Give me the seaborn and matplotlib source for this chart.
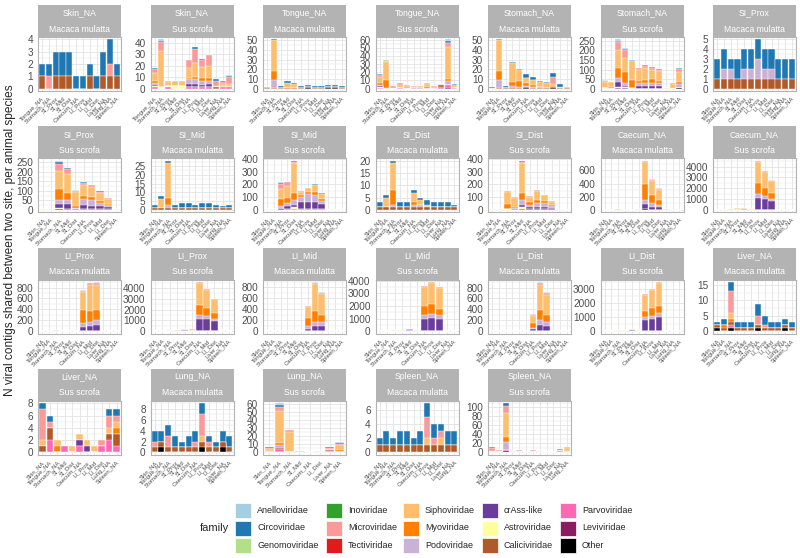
import matplotlib
matplotlib.use("Agg")
import matplotlib.pyplot as plt
from matplotlib.patches import Rectangle
import seaborn as sns
import numpy as np

sns.set_style("whitegrid")
plt.rcParams["font.family"] = ["Liberation Sans", "DejaVu Sans"]

# -------------------------------
# Sites, families, colours
# -------------------------------
SITES = ["Skin_NA", "Tongue_NA", "Stomach_NA", "SI_Prox", "SI_Mid", "SI_Dist",
         "Caecum_NA", "LI_Prox", "LI_Mid", "LI_Dist", "Liver_NA", "Lung_NA", "Spleen_NA"]

FAM_CODES = ["An", "Ci", "Ge", "In", "Mi", "Te", "Si", "My", "Po", "Cr", "As", "Ca", "Pa", "Le", "Ot"]
FAMILIES = ["Anelloviridae", "Circoviridae", "Genomoviridae", "Inoviridae", "Microviridae",
            "Tectiviridae", "Siphoviridae", "Myoviridae", "Podoviridae", "crAss-like",
            "Astroviridae", "Caliciviridae", "Parvoviridae", "Leviviridae", "Other"]
COLORS = ["#A6CEE3", "#1F78B4", "#B2DF8A", "#33A02C", "#FB9A99",
          "#E31A1C", "#FDBF6F", "#FF7F00", "#CAB2D6", "#6A3D9A",
          "#FFFF99", "#B15928", "#FF69B4", "#8B1C62", "#000000"]

# -------------------------------
# Shared contigs per panel: other site -> {family: n}
# -------------------------------
skin_mm = {
    "Tongue_NA": {"Ca": 1, "Ci": 1}, "Stomach_NA": {"Mi": 1, "Ci": 1},
    "SI_Prox": {"Ca": 1, "Ci": 2}, "SI_Mid": {"Ca": 1, "Ci": 2}, "SI_Dist": {"Ca": 1, "Ci": 2},
    "Caecum_NA": {"Ci": 1}, "LI_Prox": {"Ci": 1}, "LI_Mid": {"Ca": 1, "Ci": 1},
    "LI_Dist": {"Ci": 1}, "Liver_NA": {"Ca": 1, "Ci": 2},
    "Lung_NA": {"Ca": 1, "Mi": 1, "Ci": 2}, "Spleen_NA": {"Ca": 1, "Ci": 1},
}
skin_ss = {
    "Tongue_NA": {"Pa": 1, "As": 1, "Cr": 1, "Po": 2, "My": 2, "Si": 7, "Mi": 3, "Ci": 1},
    "Stomach_NA": {"As": 1, "Si": 32, "Mi": 8, "Ci": 1, "An": 1},
    "SI_Prox": {"Pa": 1, "As": 1, "Si": 4, "Mi": 1}, "SI_Mid": {"As": 2, "Si": 5},
    "SI_Dist": {"As": 2, "Si": 5},
    "Caecum_NA": {"Pa": 1, "Cr": 3, "Po": 4, "My": 1, "Si": 9, "Mi": 7},
    "LI_Prox": {"Pa": 1, "Cr": 3, "Po": 4, "My": 2, "Si": 12, "Mi": 13, "Ci": 1},
    "LI_Mid": {"Pa": 1, "Cr": 2, "Po": 4, "My": 2, "Si": 10, "Mi": 6, "Ci": 1},
    "LI_Dist": {"Pa": 1, "Cr": 3, "Po": 3, "My": 2, "Si": 11, "Mi": 9},
    "Liver_NA": {"Ca": 1, "Si": 1, "Mi": 5, "Ci": 1},
    "Lung_NA": {"Pa": 1, "My": 1, "Si": 2, "Mi": 2, "Ci": 1},
    "Spleen_NA": {"Pa": 1, "My": 1, "Si": 2, "Mi": 6, "Ci": 1, "An": 1},
}
tongue_mm = {
    "Skin_NA": {"Ca": 1, "Ci": 1}, "Stomach_NA": {"Ca": 1, "Po": 8, "My": 9, "Si": 32, "Ci": 1},
    "SI_Prox": {"Ca": 1, "Ci": 2}, "SI_Mid": {"Ca": 1, "Si": 5, "Ci": 2},
    "SI_Dist": {"Ca": 1, "Si": 4, "Ci": 1}, "Caecum_NA": {"Ca": 1, "Ci": 2},
    "LI_Prox": {"Ot": 1, "Ca": 1, "Ci": 2}, "LI_Mid": {"Ca": 1, "Ci": 2}, "LI_Dist": {"Ca": 1, "Ci": 2},
    "Liver_NA": {"Ot": 1, "Ca": 1, "Ci": 2}, "Lung_NA": {"Ot": 1, "Ca": 1, "Ci": 2},
    "Spleen_NA": {"Ca": 1, "Ci": 2},
}
tongue_ss = {
    "Skin_NA": {"Pa": 1, "As": 1, "Cr": 1, "Po": 2, "My": 2, "Si": 7, "Mi": 3, "Ci": 1},
    "Stomach_NA": {"Po": 1, "My": 9, "Si": 23, "Ge": 2},
    "SI_Prox": {"Si": 1, "Mi": 2}, "SI_Mid": {"Pa": 1, "Si": 4, "Mi": 2}, "SI_Dist": {"Si": 3, "Mi": 1},
    "Caecum_NA": {"Cr": 1, "Si": 1, "Mi": 1}, "LI_Prox": {"Cr": 1, "Si": 2},
    "LI_Mid": {"My": 2, "Si": 4, "Mi": 1}, "LI_Dist": {"Si": 2, "Mi": 1},
    "Liver_NA": {"Pa": 2, "Ca": 2, "Mi": 1, "Ci": 1},
    "Lung_NA": {"Ca": 1, "Le": 1, "Pa": 3, "Po": 4, "My": 3, "Si": 40, "Mi": 4, "Ci": 3, "An": 2},
    "Spleen_NA": {"Pa": 1, "Si": 2, "Mi": 2, "Ci": 1},
}
stomach_mm = {
    "Skin_NA": {"Mi": 1, "Ci": 1}, "Tongue_NA": {"Ca": 1, "Po": 8, "My": 9, "Si": 32, "Ci": 1},
    "SI_Prox": {"Ca": 1, "Ci": 2}, "SI_Mid": {"Ca": 1, "Po": 2, "My": 4, "Si": 20, "Ci": 1},
    "SI_Dist": {"Ca": 1, "Po": 1, "My": 6, "Si": 11, "Ci": 1},
    "Caecum_NA": {"Ot": 1, "Ca": 1, "Po": 1, "My": 3, "Si": 5, "Ci": 4},
    "LI_Prox": {"Ca": 1, "Po": 1, "My": 2, "Si": 5, "Ci": 3},
    "LI_Mid": {"Ca": 1, "Po": 1, "Si": 5, "Ci": 1}, "LI_Dist": {"Ca": 1, "Si": 5, "Ci": 1},
    "Liver_NA": {"Ot": 1, "Ca": 1, "My": 1, "Si": 2, "Mi": 7, "Ci": 4},
    "Lung_NA": {"Ca": 1, "Mi": 1, "Ci": 3}, "Spleen_NA": {"Ca": 1, "Ci": 1},
}
stomach_ss = {
    "Skin_NA": {"As": 1, "Si": 32, "Mi": 8, "Ci": 1, "An": 1},
    "Tongue_NA": {"Po": 1, "My": 9, "Si": 23, "Ge": 2},
    "SI_Prox": {"Le": 3, "As": 5, "Cr": 25, "Po": 20, "My": 55, "Si": 95, "Mi": 40, "Ci": 8, "An": 7},
    "SI_Mid": {"Le": 3, "As": 3, "Cr": 10, "Po": 12, "My": 58, "Si": 75, "Mi": 40, "Ci": 7, "An": 7},
    "SI_Dist": {"As": 3, "My": 40, "Si": 100, "Mi": 3, "Ci": 4},
    "Caecum_NA": {"Cr": 15, "Po": 15, "My": 10, "Si": 60, "Mi": 8, "Ci": 2},
    "LI_Prox": {"Cr": 15, "Po": 15, "My": 15, "Si": 65, "Mi": 10, "Ci": 5},
    "LI_Mid": {"Cr": 15, "Po": 15, "My": 20, "Si": 50, "Mi": 10, "Ci": 3},
    "LI_Dist": {"Cr": 15, "Po": 15, "My": 10, "Si": 50, "Mi": 10, "Ci": 3},
    "Liver_NA": {"My": 1, "Si": 1}, "Lung_NA": {"Si": 26, "Mi": 2},
    "Spleen_NA": {"Ot": 3, "Pa": 2, "Po": 18, "My": 12, "Si": 52, "Mi": 16, "Ci": 6},
}
si_prox_mm = {
    "Skin_NA": {"Ca": 1, "Ci": 2}, "Tongue_NA": {"Ca": 1, "Po": 1, "Ci": 2},
    "Stomach_NA": {"Ca": 1, "Po": 1, "Ci": 1}, "SI_Mid": {"Ca": 1, "Ci": 2},
    "SI_Dist": {"Ca": 1, "Po": 1, "Ci": 2}, "Caecum_NA": {"Ca": 1, "Po": 1, "Ci": 2},
    "LI_Prox": {"Ca": 1, "Po": 2, "Ci": 2}, "LI_Mid": {"Ca": 1, "Po": 1, "Ci": 2},
    "LI_Dist": {"Ca": 1, "Po": 1, "Ci": 2}, "Liver_NA": {"Ca": 1, "Ci": 2},
    "Lung_NA": {"Ca": 1, "Ci": 2}, "Spleen_NA": {"Ca": 1, "Ci": 2},
}
si_prox_ss = {
    "Skin_NA": {"My": 1, "Si": 4, "Mi": 2}, "Tongue_NA": {"Si": 1, "Mi": 2},
    "Stomach_NA": {"Le": 3, "As": 5, "Cr": 25, "Po": 20, "My": 55, "Si": 95, "Mi": 40, "Ci": 8, "An": 7},
    "SI_Mid": {"Ca": 3, "As": 2, "Cr": 25, "Po": 20, "My": 40, "Si": 100, "Mi": 25, "Ci": 5, "An": 2},
    "SI_Dist": {"Ca": 2, "Cr": 5, "Po": 5, "My": 10, "Si": 70, "Mi": 5, "Ci": 3, "An": 2},
    "Caecum_NA": {"Ca": 3, "Cr": 20, "Po": 35, "My": 15, "Si": 60, "Mi": 8, "Ci": 4},
    "LI_Prox": {"Ca": 3, "Cr": 15, "Po": 35, "My": 14, "Si": 55, "Mi": 7, "Ci": 3},
    "LI_Mid": {"Ca": 3, "Cr": 15, "Po": 20, "My": 10, "Si": 40, "Mi": 6, "Ci": 3},
    "LI_Dist": {"Ca": 2, "Cr": 15, "Po": 10, "My": 5, "Si": 25, "Mi": 5},
    "Spleen_NA": {"Mi": 3},
}
si_mid_mm = {
    "Skin_NA": {"Ca": 1, "Ci": 2}, "Tongue_NA": {"Ca": 1, "Si": 5, "Ci": 2},
    "Stomach_NA": {"Ca": 1, "Po": 2, "My": 4, "Si": 20, "Ci": 1},
    "SI_Prox": {"Ca": 1, "Ci": 2}, "SI_Dist": {"Ca": 1, "Ci": 3}, "Caecum_NA": {"Ca": 1, "Ci": 3},
    "LI_Prox": {"Ca": 1, "Ci": 2}, "LI_Mid": {"Ca": 1, "Ci": 3}, "LI_Dist": {"Ca": 1, "Ci": 3},
    "Liver_NA": {"Ca": 1, "Ci": 2}, "Lung_NA": {"Ca": 1, "Ci": 1}, "Spleen_NA": {"Ca": 1, "Ci": 2},
}
si_mid_ss = {
    "Skin_NA": {"As": 2, "Si": 5}, "Tongue_NA": {"Pa": 1, "Si": 4, "Mi": 2},
    "Stomach_NA": {"Le": 3, "As": 3, "Cr": 10, "Po": 12, "My": 58, "Si": 75, "Mi": 40, "Ci": 7, "An": 7},
    "SI_Prox": {"Ca": 3, "As": 2, "Cr": 25, "Po": 20, "My": 40, "Si": 100, "Mi": 25, "Ci": 5, "An": 2},
    "SI_Dist": {"Ca": 5, "As": 20, "Cr": 15, "Po": 40, "My": 50, "Si": 240, "Mi": 8, "Ci": 5, "An": 2},
    "Caecum_NA": {"Ca": 3, "Cr": 60, "Po": 35, "My": 20, "Si": 25, "Mi": 5, "Ci": 2},
    "LI_Prox": {"Ca": 3, "Cr": 60, "Po": 60, "My": 15, "Si": 30, "Mi": 5, "Ci": 2},
    "LI_Mid": {"Ca": 3, "Cr": 55, "Po": 60, "My": 20, "Si": 55, "Mi": 5, "Ci": 2},
    "LI_Dist": {"Ca": 3, "Cr": 45, "Po": 25, "My": 15, "Si": 35, "Mi": 5, "Ci": 2},
    "Liver_NA": {"Pa": 1}, "Lung_NA": {"My": 2}, "Spleen_NA": {"Si": 3, "Mi": 2},
}
si_dist_mm = {
    "Skin_NA": {"Ca": 1, "Ci": 2}, "Tongue_NA": {"Ca": 1, "Si": 4, "Ci": 1},
    "Stomach_NA": {"Ca": 1, "Po": 1, "My": 6, "Si": 11, "Ci": 1},
    "SI_Prox": {"Ca": 1, "Ci": 2}, "SI_Mid": {"Ca": 1, "Ci": 2},
    "Caecum_NA": {"Ca": 1, "Po": 1, "My": 1, "Si": 4, "Ci": 1},
    "LI_Prox": {"Ca": 1, "Po": 1, "Si": 2, "Ci": 1}, "LI_Mid": {"Ca": 1, "Si": 1, "Ci": 2},
    "LI_Dist": {"Ca": 1, "Ci": 2}, "Liver_NA": {"Ca": 1, "Ci": 2},
    "Lung_NA": {"Ca": 1, "Ci": 2}, "Spleen_NA": {"Ca": 1, "Ci": 1},
}
si_dist_ss = {
    "Skin_NA": {"As": 2, "Si": 5}, "Tongue_NA": {"Si": 3, "Mi": 1},
    "Stomach_NA": {"As": 3, "My": 40, "Si": 100, "Mi": 3, "Ci": 4},
    "SI_Prox": {"Ca": 2, "Cr": 5, "Po": 5, "My": 10, "Si": 70, "Mi": 5, "Ci": 3, "An": 2},
    "SI_Mid": {"Ca": 5, "As": 20, "Cr": 15, "Po": 40, "My": 50, "Si": 240, "Mi": 8, "Ci": 5, "An": 2},
    "Caecum_NA": {"Ca": 5, "As": 5, "Cr": 10, "Po": 15, "My": 25, "Si": 40, "Mi": 5, "Ci": 5},
    "LI_Prox": {"Ca": 5, "As": 5, "Cr": 15, "Po": 30, "My": 25, "Si": 70, "Mi": 5},
    "LI_Mid": {"Ca": 5, "As": 5, "Cr": 15, "Po": 30, "My": 15, "Si": 45, "Mi": 5},
    "LI_Dist": {"Ca": 3, "Cr": 10, "Po": 15, "My": 10, "Si": 25, "Mi": 5},
    "Liver_NA": {"Si": 1}, "Spleen_NA": {"Mi": 2},
}
caecum_mm = {
    "Skin_NA": {"Ci": 1}, "Tongue_NA": {"Ca": 1, "Ci": 2},
    "Stomach_NA": {"Ot": 1, "Ca": 1, "Po": 1, "My": 3, "Si": 5, "Ci": 4},
    "SI_Prox": {"Ca": 1, "Po": 1, "Ci": 2}, "SI_Mid": {"Ca": 1, "Ci": 3},
    "SI_Dist": {"Ca": 1, "Po": 1, "My": 1, "Si": 4, "Ci": 1},
    "LI_Prox": {"Ot": 10, "Cr": 73, "Po": 63, "My": 244, "Si": 332, "Mi": 15, "An": 9},
    "LI_Mid": {"Ot": 2, "Cr": 45, "Po": 50, "My": 135, "Si": 205, "Mi": 20, "An": 5},
    "LI_Dist": {"Cr": 40, "Po": 30, "My": 75, "Si": 150, "Mi": 25, "An": 5},
    "Liver_NA": {"Ot": 1, "Ca": 1, "Mi": 3, "Ci": 4}, "Lung_NA": {"Ca": 1, "Mi": 1, "Ci": 2},
    "Spleen_NA": {"Ca": 1, "Ci": 2},
}
caecum_ss = {
    "Skin_NA": {"Pa": 1, "Cr": 3, "Po": 4, "My": 1, "Si": 9, "Mi": 7},
    "Tongue_NA": {"Cr": 1, "Si": 1, "Mi": 1},
    "Stomach_NA": {"Cr": 15, "Po": 15, "My": 10, "Si": 60, "Mi": 8, "Ci": 2},
    "SI_Prox": {"Ca": 3, "Cr": 20, "Po": 35, "My": 15, "Si": 60, "Mi": 8, "Ci": 4},
    "SI_Mid": {"Ca": 3, "Cr": 60, "Po": 35, "My": 20, "Si": 25, "Mi": 5, "Ci": 2},
    "SI_Dist": {"Ca": 5, "As": 5, "Cr": 10, "Po": 15, "My": 25, "Si": 40, "Mi": 5, "Ci": 5},
    "LI_Prox": {"Cr": 1110, "Po": 390, "My": 960, "Si": 1985, "Mi": 90, "An": 15},
    "LI_Mid": {"Cr": 960, "Po": 330, "My": 720, "Si": 1530, "Mi": 40, "An": 20},
    "LI_Dist": {"Cr": 810, "Po": 240, "My": 510, "Si": 1110, "Mi": 40, "An": 10},
    "Liver_NA": {"Pa": 1, "Cr": 1, "Si": 1}, "Lung_NA": {"Mi": 1}, "Spleen_NA": {"Si": 3, "Mi": 2},
}
li_prox_mm = {
    "Skin_NA": {"Ci": 1}, "Tongue_NA": {"Ot": 1, "Ca": 1, "Ci": 2},
    "Stomach_NA": {"Ca": 1, "Po": 1, "My": 2, "Si": 5, "Ci": 3},
    "SI_Prox": {"Ca": 1, "Po": 2, "Ci": 2}, "SI_Mid": {"Ca": 1, "Ci": 2},
    "SI_Dist": {"Ca": 1, "Po": 1, "Si": 2, "Ci": 1},
    "Caecum_NA": {"Ot": 10, "Cr": 73, "Po": 63, "My": 244, "Si": 332, "Mi": 15, "An": 9},
    "LI_Mid": {"Ot": 10, "Cr": 80, "Po": 80, "My": 200, "Si": 480, "Mi": 30, "An": 10},
    "LI_Dist": {"Ot": 5, "Cr": 105, "Po": 90, "My": 180, "Si": 460, "Mi": 50, "An": 10},
    "Liver_NA": {"Ca": 1, "Mi": 1, "Ci": 3}, "Lung_NA": {"Ot": 1, "Ca": 1, "Si": 1, "Mi": 4, "Ci": 2},
    "Spleen_NA": {"Ca": 1, "Si": 1, "Mi": 3, "Ci": 2},
}
li_prox_ss = {
    "Skin_NA": {"Pa": 1, "Cr": 3, "Po": 4, "My": 2, "Si": 12, "Mi": 13, "Ci": 1},
    "Tongue_NA": {"Cr": 1, "Si": 2},
    "Stomach_NA": {"Cr": 15, "Po": 15, "My": 15, "Si": 65, "Mi": 10, "Ci": 5},
    "SI_Prox": {"Ca": 3, "Cr": 15, "Po": 35, "My": 14, "Si": 55, "Mi": 7, "Ci": 3},
    "SI_Mid": {"Ca": 3, "Cr": 60, "Po": 60, "My": 15, "Si": 30, "Mi": 5, "Ci": 2},
    "SI_Dist": {"Ca": 5, "As": 5, "Cr": 15, "Po": 30, "My": 25, "Si": 70, "Mi": 5},
    "Caecum_NA": {"Cr": 1110, "Po": 390, "My": 960, "Si": 1985, "Mi": 90, "An": 15},
    "LI_Mid": {"Cr": 1080, "Po": 300, "My": 810, "Si": 1650, "Mi": 60, "An": 10},
    "LI_Dist": {"Cr": 900, "Po": 180, "My": 570, "Si": 1290, "Mi": 40, "An": 20},
    "Liver_NA": {"Cr": 1, "Si": 1}, "Spleen_NA": {"Si": 2, "Mi": 1},
}
li_mid_mm = {
    "Skin_NA": {"Ca": 1, "Ci": 1}, "Tongue_NA": {"Ca": 1, "Ci": 2},
    "Stomach_NA": {"Ca": 1, "Po": 1, "Si": 5, "Ci": 1},
    "SI_Prox": {"Ca": 1, "Po": 1, "Ci": 2}, "SI_Mid": {"Ca": 1, "Ci": 3},
    "SI_Dist": {"Ca": 1, "Si": 1, "Ci": 2},
    "Caecum_NA": {"Ot": 2, "Cr": 45, "Po": 50, "My": 135, "Si": 205, "Mi": 20, "An": 5},
    "LI_Prox": {"Ot": 10, "Cr": 80, "Po": 80, "My": 200, "Si": 480, "Mi": 30, "An": 10},
    "LI_Dist": {"Ot": 5, "Cr": 90, "Po": 75, "My": 120, "Si": 380, "Mi": 30, "An": 10},
    "Liver_NA": {"Ca": 1, "Ci": 2}, "Lung_NA": {"Ca": 1, "Mi": 1, "Ci": 1},
    "Spleen_NA": {"Ca": 1, "Mi": 1, "Ci": 2},
}
li_mid_ss = {
    "Skin_NA": {"Pa": 1, "Cr": 2, "Po": 4, "My": 2, "Si": 10, "Mi": 6, "Ci": 1},
    "Tongue_NA": {"My": 2, "Si": 4, "Mi": 1},
    "Stomach_NA": {"Cr": 15, "Po": 15, "My": 20, "Si": 50, "Mi": 10, "Ci": 3},
    "SI_Prox": {"Ca": 3, "Cr": 15, "Po": 20, "My": 10, "Si": 40, "Mi": 6, "Ci": 3},
    "SI_Mid": {"Ca": 3, "Cr": 55, "Po": 60, "My": 20, "Si": 55, "Mi": 5, "Ci": 2},
    "SI_Dist": {"Ca": 5, "As": 5, "Cr": 15, "Po": 30, "My": 15, "Si": 45, "Mi": 5},
    "Caecum_NA": {"Cr": 960, "Po": 330, "My": 720, "Si": 1530, "Mi": 40, "An": 20},
    "LI_Prox": {"Cr": 1080, "Po": 300, "My": 810, "Si": 1650, "Mi": 60, "An": 10},
    "LI_Dist": {"Cr": 980, "Po": 290, "My": 520, "Si": 1620, "Mi": 80, "An": 20},
    "Liver_NA": {"Si": 1}, "Spleen_NA": {"Si": 2},
}
li_dist_mm = {
    "Skin_NA": {"Ci": 1}, "Tongue_NA": {"Ca": 1, "Ci": 2},
    "Stomach_NA": {"Ca": 1, "Si": 5, "Ci": 1}, "SI_Prox": {"Ca": 1, "Po": 1, "Ci": 2},
    "SI_Mid": {"Ca": 1, "Ci": 3}, "SI_Dist": {"Ca": 1, "Ci": 2},
    "Caecum_NA": {"Cr": 48, "Po": 18, "My": 84, "Si": 120, "Mi": 30, "An": 7},
    "LI_Prox": {"Ot": 5, "Cr": 105, "Po": 90, "My": 180, "Si": 460, "Mi": 50, "An": 10},
    "LI_Mid": {"Ot": 5, "Cr": 90, "Po": 75, "My": 120, "Si": 380, "Mi": 30, "An": 10},
    "Liver_NA": {"Ca": 1, "Ci": 2}, "Lung_NA": {"Ca": 1, "Ci": 1},
    "Spleen_NA": {"Ca": 1, "Si": 1, "Mi": 1, "Ci": 1},
}
li_dist_ss = {
    "Skin_NA": {"Pa": 1, "Cr": 3, "Po": 3, "My": 2, "Si": 11, "Mi": 9},
    "Tongue_NA": {"Si": 2, "Mi": 1},
    "Stomach_NA": {"Cr": 15, "Po": 15, "My": 10, "Si": 50, "Mi": 10, "Ci": 3},
    "SI_Prox": {"Ca": 2, "Cr": 15, "Po": 10, "My": 5, "Si": 25, "Mi": 5},
    "SI_Mid": {"Ca": 3, "Cr": 45, "Po": 25, "My": 15, "Si": 35, "Mi": 5, "Ci": 2},
    "SI_Dist": {"Ca": 3, "Cr": 10, "Po": 15, "My": 10, "Si": 25, "Mi": 5},
    "Caecum_NA": {"Cr": 830, "Po": 190, "My": 430, "Si": 1170, "Mi": 60, "An": 10},
    "LI_Prox": {"Cr": 900, "Po": 180, "My": 570, "Si": 1290, "Mi": 40, "An": 20},
    "LI_Mid": {"Cr": 980, "Po": 290, "My": 520, "Si": 1620, "Mi": 80, "An": 20},
    "Liver_NA": {"Pa": 1, "Mi": 1}, "Lung_NA": {"My": 1, "Si": 1}, "Spleen_NA": {"Si": 2},
}
liver_mm = {
    "Skin_NA": {"Ot": 1, "Ca": 1, "Ci": 1}, "Tongue_NA": {"Ca": 1, "My": 1, "Ci": 2},
    "Stomach_NA": {"Ot": 1, "Ca": 1, "Pa": 1, "My": 1, "Si": 2, "Mi": 7, "Ci": 3},
    "SI_Prox": {"Ca": 1, "Ci": 2}, "SI_Mid": {"Ca": 1, "Ci": 2}, "SI_Dist": {"Ca": 1, "Ci": 2},
    "Caecum_NA": {"Ot": 1, "Ca": 1, "Mi": 3, "Ci": 4}, "LI_Prox": {"Ca": 1, "Mi": 1, "Ci": 3},
    "LI_Mid": {"Ca": 1, "Ci": 2}, "LI_Dist": {"Ca": 1, "Ci": 2},
    "Lung_NA": {"Ot": 1, "Ca": 1, "Ci": 2}, "Spleen_NA": {"Ca": 1, "Ci": 2},
}
liver_ss = {
    "Skin_NA": {"Ca": 1, "Si": 1, "Mi": 5, "Ci": 1}, "Tongue_NA": {"Pa": 2, "Ca": 2, "Mi": 1, "Ci": 1},
    "Stomach_NA": {"My": 1, "Si": 1}, "SI_Mid": {"Pa": 1}, "SI_Dist": {"Si": 1},
    "Caecum_NA": {"Pa": 1, "Cr": 1, "Si": 1}, "LI_Prox": {"Cr": 1, "Si": 1}, "LI_Mid": {"Si": 1},
    "LI_Dist": {"Pa": 1, "Mi": 1},
    "Lung_NA": {"Pa": 2, "Ca": 1, "Si": 1, "Mi": 2, "Ci": 1},
    "Spleen_NA": {"Pa": 1, "Ca": 2, "My": 1, "Si": 1, "Mi": 1, "Ci": 1},
}
lung_mm = {
    "Skin_NA": {"Ca": 1, "Mi": 1, "Ci": 2}, "Tongue_NA": {"Ot": 1, "Ca": 1, "Ci": 2},
    "Stomach_NA": {"Ca": 1, "Mi": 2, "Ci": 2}, "SI_Prox": {"Ca": 1, "Ci": 2},
    "SI_Mid": {"Ca": 1, "Ci": 1}, "SI_Dist": {"Ca": 1, "Ci": 2},
    "Caecum_NA": {"Ca": 1, "Mi": 1, "Ci": 2}, "LI_Prox": {"Ot": 1, "Ca": 1, "Si": 1, "Mi": 4, "Ci": 2},
    "LI_Mid": {"Ca": 1, "Mi": 1, "Ci": 1}, "LI_Dist": {"Ca": 1, "Ci": 1},
    "Liver_NA": {"Ot": 1, "Ca": 1, "Ci": 2}, "Spleen_NA": {"Ca": 1, "Ci": 2},
}
lung_ss = {
    "Skin_NA": {"Pa": 1, "My": 1, "Si": 2, "Mi": 2, "Ci": 1},
    "Tongue_NA": {"Ca": 1, "Le": 1, "Pa": 3, "Po": 4, "My": 3, "Si": 40, "Mi": 4, "Ci": 3, "An": 2},
    "Stomach_NA": {"Si": 26, "Mi": 2}, "SI_Mid": {"My": 2}, "Caecum_NA": {"Mi": 1},
    "LI_Dist": {"My": 1, "Si": 1},
    "Liver_NA": {"Pa": 2, "Ca": 1, "Si": 1, "Mi": 2, "Ci": 1},
    "Spleen_NA": {"Pa": 1, "My": 2, "Si": 6, "Mi": 2, "Ci": 1, "An": 1},
}
spleen_mm = {
    "Skin_NA": {"Ca": 1, "Ci": 1}, "Tongue_NA": {"Ca": 1, "Ci": 2}, "Stomach_NA": {"Ca": 1, "Ci": 1},
    "SI_Prox": {"Ca": 1, "Ci": 2}, "SI_Mid": {"Ca": 1, "Ci": 2}, "SI_Dist": {"Ca": 1, "Ci": 1},
    "Caecum_NA": {"Ca": 1, "Ci": 2}, "LI_Prox": {"Ca": 1, "Si": 1, "Mi": 3, "Ci": 2},
    "LI_Mid": {"Ca": 1, "Mi": 1, "Ci": 2}, "LI_Dist": {"Ca": 1, "Si": 1, "Mi": 1, "Ci": 1},
    "Liver_NA": {"Ca": 1, "Ci": 2}, "Lung_NA": {"Ca": 1, "Ci": 2},
}
spleen_ss = {
    "Skin_NA": {"Pa": 1, "My": 1, "Si": 2, "Mi": 6, "Ci": 1, "An": 1},
    "Tongue_NA": {"Pa": 1, "Si": 2, "Mi": 2, "Ci": 1},
    "Stomach_NA": {"Ot": 3, "Pa": 2, "Po": 18, "My": 12, "Si": 52, "Mi": 16, "Ci": 6},
    "SI_Prox": {"Mi": 3}, "SI_Mid": {"Si": 3, "Mi": 2}, "SI_Dist": {"Mi": 2},
    "Caecum_NA": {"Si": 3, "Mi": 2}, "LI_Prox": {"Si": 2, "Mi": 1}, "LI_Mid": {"Si": 2},
    "LI_Dist": {"Si": 2}, "Liver_NA": {"Pa": 1, "Ca": 2, "My": 1, "Si": 1, "Mi": 1, "Ci": 1},
    "Lung_NA": {"Pa": 1, "My": 2, "Si": 6, "Mi": 2, "Ci": 1, "An": 1},
}

MM, SS = "Macaca mulatta", "Sus scrofa"
PANELS = [
    ("Skin_NA", MM, skin_mm), ("Skin_NA", SS, skin_ss),
    ("Tongue_NA", MM, tongue_mm), ("Tongue_NA", SS, tongue_ss),
    ("Stomach_NA", MM, stomach_mm), ("Stomach_NA", SS, stomach_ss),
    ("SI_Prox", MM, si_prox_mm), ("SI_Prox", SS, si_prox_ss),
    ("SI_Mid", MM, si_mid_mm), ("SI_Mid", SS, si_mid_ss),
    ("SI_Dist", MM, si_dist_mm), ("SI_Dist", SS, si_dist_ss),
    ("Caecum_NA", MM, caecum_mm), ("Caecum_NA", SS, caecum_ss),
    ("LI_Prox", MM, li_prox_mm), ("LI_Prox", SS, li_prox_ss),
    ("LI_Mid", MM, li_mid_mm), ("LI_Mid", SS, li_mid_ss),
    ("LI_Dist", MM, li_dist_mm), ("LI_Dist", SS, li_dist_ss),
    ("Liver_NA", MM, liver_mm), ("Liver_NA", SS, liver_ss),
    ("Lung_NA", MM, lung_mm), ("Lung_NA", SS, lung_ss),
    ("Spleen_NA", MM, spleen_mm), ("Spleen_NA", SS, spleen_ss),
]


def nice_step(top):
    # roughly like R's pretty breaks: prefer steps of 1, then 5, then 2
    for k in range(-1, 6):
        for q in (1, 5, 2):
            step = q * 10 ** k
            n = int(top // step) + 1
            if 4 <= n <= 7:
                return step
    return 10 ** int(np.log10(top))


# -------------------------------
# Layout (pixels)
# -------------------------------
W, H = 800, 558
PW, PH = 83, 54
STRIP = 16
GREY70 = "#B3B3B3"
GRID = "#E3E3E3"
TXT = "#4D4D4D"

fig = plt.figure(figsize=(W / 100, H / 100), dpi=100)

for k, (site, species, data) in enumerate(PANELS):
    r, c = divmod(k, 7)
    x0 = 38 + 112.5 * c
    top = 37 + 121.3 * r
    ax = fig.add_axes([x0 / W, 1 - (top + PH) / H, PW / W, PH / H])

    cats = [s for s in SITES if s in data]
    vals = np.array([[data[s].get(f, 0) for f in FAM_CODES] for s in cats], float)
    # stack: last family sits at the bottom
    cum = np.cumsum(vals[:, ::-1], axis=1)[:, ::-1]

    for j, code in enumerate(FAM_CODES):
        if vals[:, j].sum() == 0:
            continue
        sns.barplot(x=cats, y=cum[:, j], order=cats, color=COLORS[j], saturation=1,
                    width=0.9, edgecolor="white", linewidth=0.3, errorbar=None, ax=ax)

    ymax = cum[:, 0].max()
    ax.set_ylim(-0.05 * ymax, 1.05 * ymax)
    step = nice_step(1.05 * ymax)
    ticks = np.arange(0, 1.05 * ymax + 1e-9, step)
    minor = np.arange(step / 2, 1.05 * ymax + 1e-9, step)
    ax.set_yticks(ticks)
    ax.set_yticklabels([f"{t:g}" for t in ticks])
    ax.set_yticks(minor, minor=True)
    ax.set_xlim(-0.6, len(cats) - 0.4)
    ax.set_xticks(range(len(cats)))
    ax.set_xticklabels(cats, rotation=45, ha="right", rotation_mode="anchor",
                       fontsize=4.3, color=TXT)

    ax.set_axisbelow(True)
    ax.grid(True, which="major", color=GRID, linewidth=0.6)
    ax.yaxis.grid(True, which="minor", color=GRID, linewidth=0.35)
    ax.set_facecolor("white")
    for sp in ax.spines.values():
        sp.set_visible(True)
        sp.set_color(GREY70)
        sp.set_linewidth(0.8)
    ax.tick_params(axis="y", which="major", labelsize=7.2, labelcolor=TXT, length=2,
                   color=GREY70, width=0.6, pad=1.5)
    ax.tick_params(axis="y", which="minor", length=0)
    ax.tick_params(axis="x", length=2, color=GREY70, width=0.6, pad=1.5)
    ax.set_xlabel("")
    ax.set_ylabel("")

    # two stacked facet strips
    fig.patches.append(Rectangle((x0 / W, 1 - top / H), PW / W, 2 * STRIP / H,
                                 transform=fig.transFigure, facecolor=GREY70,
                                 edgecolor="none"))
    fig.text((x0 + PW / 2) / W, 1 - (top - 1.5 * STRIP) / H, site, color="white",
             fontsize=6.2, ha="center", va="center")
    fig.text((x0 + PW / 2) / W, 1 - (top - 0.5 * STRIP) / H, species, color="white",
             fontsize=6.2, ha="center", va="center")

fig.text(10 / W, 1 - 240 / H, "N viral contigs shared between two site, per animal species",
         rotation=90, ha="center", va="center", fontsize=8.6)

# -------------------------------
# Legend (3 rows, filled by column)
# -------------------------------
key_x = [235, 326, 403, 482, 560]
row_y = [510.5, 528, 545.5]
fig.text(200 / W, 1 - 528 / H, "family", fontsize=8, ha="left", va="center")
for i, (fam, col) in enumerate(zip(FAMILIES, COLORS)):
    cc, rr = divmod(i, 3)
    kx, ky = key_x[cc], row_y[rr]
    fig.patches.append(Rectangle((kx / W, 1 - (ky + 7.5) / H), 16 / W, 15 / H,
                                 transform=fig.transFigure, facecolor=col,
                                 edgecolor="white", linewidth=0.5))
    fig.text((kx + 22) / W, 1 - ky / H, fam, fontsize=6.5, ha="left", va="center")

plt.savefig("out.png", dpi=100)
plt.close()
